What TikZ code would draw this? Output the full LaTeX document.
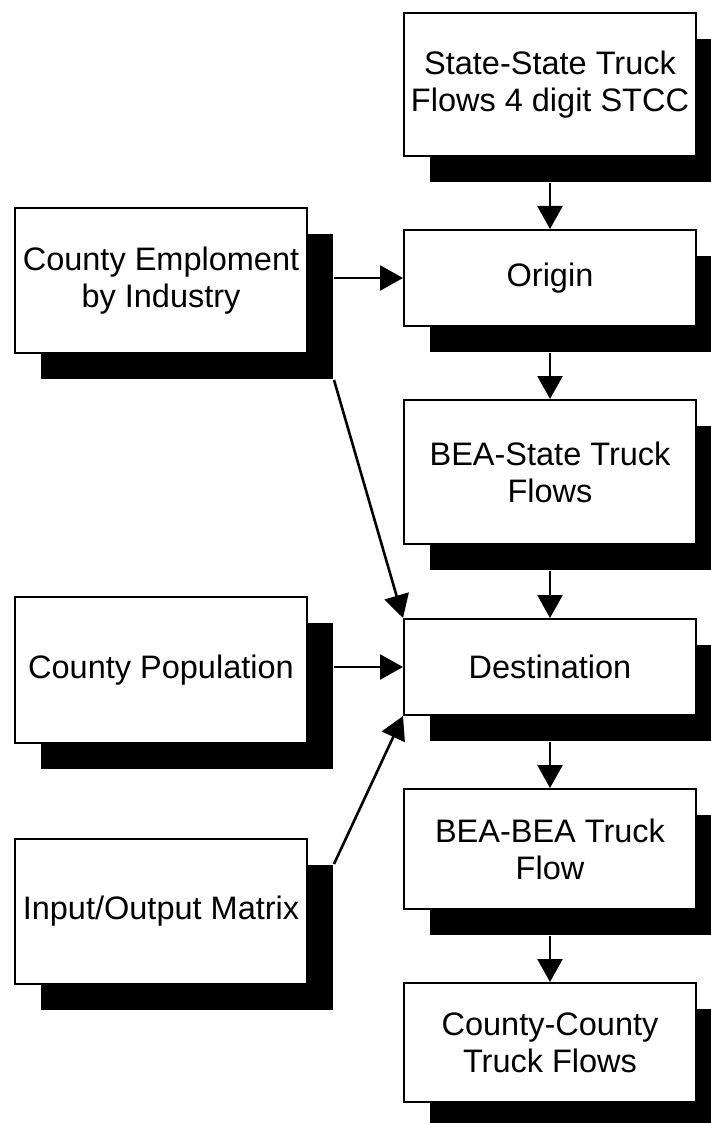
\documentclass[tikz,border=0pt]{standalone}
\usepackage{fontspec}
\setmainfont{Liberation Sans}
\usetikzlibrary{arrows.meta,shadows,calc}
\begin{document}
\begin{tikzpicture}[x=1pt,y=-1pt,
  box/.style={draw=black, line width=2pt, fill=white, anchor=north west,
    minimum width=292pt, inner sep=2pt, align=center,
    font=\fontsize{32.5}{37}\selectfont,
    drop shadow={shadow xshift=26pt, shadow yshift=-26pt, fill=black, opacity=1}},
  flow/.style={line width=2.6pt, -{Triangle[length=23pt,width=25pt]}}]
\fill[white] (0,0) rectangle (711,1123);
\useasboundingbox (0,0) rectangle (711,1123);
% right column
\node[box, minimum height=143pt] (ss) at (403,12) {State-State Truck\\Flows 4 digit STCC};
\node[box, minimum height=96pt] (origin) at (403,229) {Origin};
\node[box, minimum height=144pt] (beast) at (403,399) {BEA-State Truck\\Flows};
\node[box, minimum height=96pt] (dest) at (403,618) {Destination};
\node[box, minimum height=120pt] (beabea) at (403,788) {BEA-BEA Truck\\Flow};
\node[box, minimum height=119pt] (cc) at (403,982) {County-County\\Truck Flows};
% left column
\node[box, minimum height=145pt] (emp) at (14,207) {County Emploment\\by Industry};
\node[box, minimum height=146pt] (pop) at (14,596) {County Population};
\node[box, minimum height=145pt] (io) at (14,838) {Input/Output Matrix};
% shadow corners used as connector start points
\coordinate (empc) at ($(emp.south east)+(26pt,-26pt)$);
\coordinate (ioc) at ($(io.north east)+(26pt,-26pt)$);
% connectors
\draw[flow] ($(ss.south)+(0,-26pt)$) -- (origin.north);
\draw[flow] ($(origin.south)+(0,-26pt)$) -- (beast.north);
\draw[flow] ($(beast.south)+(0,-26pt)$) -- (dest.north);
\draw[flow] ($(dest.south)+(0,-26pt)$) -- (beabea.north);
\draw[flow] ($(beabea.south)+(0,-26pt)$) -- (cc.north);
\draw[flow] ($(origin.west -| emp.east)+(26pt,0)$) -- (origin.west);
\draw[flow] ($(dest.west -| pop.east)+(26pt,0)$) -- (dest.west);
\draw[flow] (empc) -- (dest.north west);
\draw[flow] (ioc) -- (dest.south west);
\end{tikzpicture}
\end{document}
